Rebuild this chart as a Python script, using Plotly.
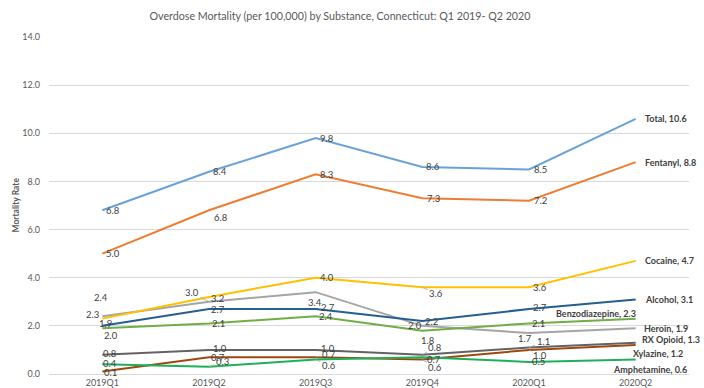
import plotly.graph_objects as go

categories = ["2019Q1", "2019Q2", "2019Q3", "2019Q4", "2020Q1", "2020Q2"]
total = [6.8, 8.4, 9.8, 8.6, 8.5, 10.6]
fentanyl = [5.0, 6.8, 8.3, 7.3, 7.2, 8.8]
cocaine = [2.3, 3.2, 4.0, 3.6, 3.6, 4.7]
alcohol = [2.0, 2.7, 2.7, 2.2, 2.7, 3.1]
benzodiazepine = [1.9, 2.1, 2.4, 1.8, 2.1, 2.3]
heroin = [2.4, 3.0, 3.4, 2.0, 1.7, 1.9]
rx_opioid = [0.8, 1.0, 1.0, 0.8, 1.1, 1.3]
xylazine = [0.1, 0.7, 0.7, 0.6, 1.0, 1.2]
amphetamine = [0.4, 0.3, 0.6, 0.7, 0.5, 0.6]

series = [
    ("Total", total, "#6AA2D8"),
    ("Fentanyl", fentanyl, "#ED7D31"),
    ("Heroin", heroin, "#A5A5A5"),
    ("Cocaine", cocaine, "#FFC000"),
    ("Alcohol", alcohol, "#255E91"),
    ("Benzodiazepine", benzodiazepine, "#70AD47"),
    ("Xylazine", xylazine, "#9E480E"),
    ("RX Opioid", rx_opioid, "#636363"),
    ("Amphetamine", amphetamine, "#1DB05A"),
]

# label offsets (dx, dy in px, leader line) for each point except last
R = (11, 0, False)
L = (9, 0, False)
label_style = {
    "Total": [R, R, R, R, R],
    "Fentanyl": [R, (12, 7, False), R, R, R],
    "Heroin": [(-1, -19, False), (-17, -9, True), (-1, 10, False), (-7, 0, False), (-4, 5, False)],
    "Cocaine": [(-10, -4, False), (8, 2, False), (11, 0, False), (14, 6, True), R],
    "Alcohol": [(9, 10, False), L, (12, -2, False), (9, 0, False), (11, -2, False)],
    "Benzodiazepine": [(3, -5, False), L, (10, 0, False), (6, 10, False), L],
    "Xylazine": [(8, 1, False), L, (13, -3, True), (13, 8, True), (11, 6, True)],
    "RX Opioid": [(8, -1, False), (11, -1, False), (12, -1, False), (13, -7, True), (14, -6, True)],
    "Amphetamine": [(8, -1, False), (13, -5, True), (13, 6, True), (12, 2, False), L],
}
# end label offsets (dx, dy, anchor)
end_style = {
    "Total": (7, 0, "left"),
    "Fentanyl": (7, 0, "left"),
    "Heroin": (6, 0, "left"),
    "Cocaine": (7, 0, "left"),
    "Alcohol": (7, 0, "left"),
    "Benzodiazepine": (2, -5, "right"),
    "Xylazine": (-5, 8, "left"),
    "RX Opioid": (4, -3, "left"),
    "Amphetamine": (53, 10, "right"),
}

FONT = "Lato, 'DejaVu Sans', sans-serif"
fig = go.Figure()
annotations = []
for name, vals, color in series:
    fig.add_trace(go.Scatter(x=categories, y=vals, mode="lines", name=name,
                             line=dict(color=color, width=2), showlegend=False))
    for i, (c, v) in enumerate(zip(categories[:-1], vals[:-1])):
        dx, dy, leader = label_style[name][i]
        if leader:
            annotations.append(dict(x=c, y=v, text=f"{v:.1f}", showarrow=True, ax=dx, ay=dy,
                                    arrowhead=0, arrowwidth=0.8, arrowcolor="#A6A6A6", standoff=0,
                                    font=dict(family=FONT, size=9.5, color="#404040")))
        else:
            annotations.append(dict(x=c, y=v, text=f"{v:.1f}", showarrow=False,
                                    xshift=dx, yshift=-dy, xanchor="center", yanchor="middle",
                                    font=dict(family=FONT, size=9.5, color="#404040")))
    dx, dy, anc = end_style[name]
    annotations.append(dict(x=categories[-1], y=vals[-1], text=f"<b>{name}, {vals[-1]:.1f}</b>",
                            showarrow=False, xshift=dx, yshift=-dy, xanchor=anc, yanchor="middle",
                            font=dict(family=FONT, size=9, color="#404040")))

annotations.append(dict(xref="paper", yref="paper", x=0, y=0.5, xshift=-34, text="<b>Mortality Rate</b>",
                        textangle=-90, showarrow=False, xanchor="center", yanchor="middle",
                        font=dict(family=FONT, size=8.5, color="#595959")))

fig.update_layout(
    width=704, height=388,
    margin=dict(l=49, r=15, t=37, b=14),
    paper_bgcolor="white", plot_bgcolor="white",
    title=dict(text="Overdose Mortality (per 100,000) by Substance, Connecticut: Q1 2019- Q2 2020",
               x=340 / 704, xanchor="center", y=1 - 16 / 388, yanchor="middle",
               font=dict(family=FONT, size=10.7, color="#595959")),
    annotations=annotations,
    xaxis=dict(type="category", range=[-0.5, 5.5], showgrid=False, showline=True,
               linecolor="#D9D9D9", linewidth=1, ticks="", automargin=False,
               tickfont=dict(family=FONT, size=9, color="#595959")),
    yaxis=dict(range=[0, 14], dtick=2, tickformat=".1f", showgrid=True, gridcolor="#D9D9D9",
               gridwidth=1, zeroline=False, showline=False, ticks="", ticklabelstandoff=8,
               automargin=False,
               tickfont=dict(family=FONT, size=9, color="#595959")),
)
fig.write_html("out.html")
